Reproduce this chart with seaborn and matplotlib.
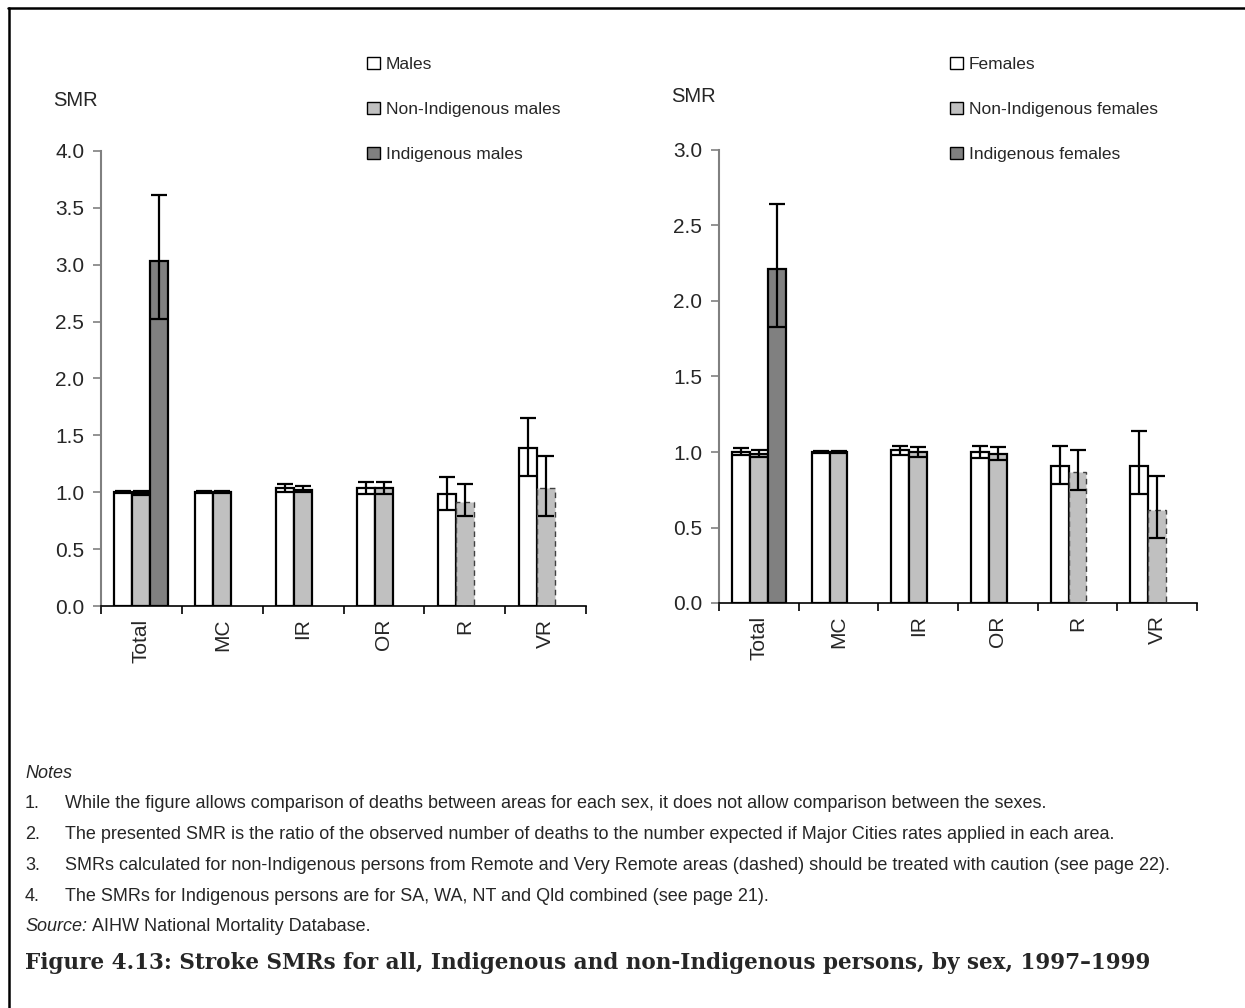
import numpy as np
import pandas as pd
import matplotlib
matplotlib.use("Agg")
import matplotlib.pyplot as plt
import seaborn as sns
from matplotlib.patches import Patch
from matplotlib.lines import Line2D

# ---------------- data ----------------
categories = ["Total", "MC", "IR", "OR", "R", "VR"]

male_series = ["Males", "Non-Indigenous males", "Indigenous males"]
male_all = [1.00, 1.00, 1.035, 1.04, 0.985, 1.39]
male_all_lo = [0.99, 0.99, 1.005, 0.985, 0.845, 1.146]
male_all_hi = [1.01, 1.01, 1.073, 1.09, 1.13, 1.65]
male_non = [0.99, 1.00, 1.02, 1.04, 0.91, 1.035]
male_non_lo = [0.98, 0.99, 1.00, 0.985, 0.79, 0.79]
male_non_hi = [1.01, 1.01, 1.058, 1.09, 1.073, 1.32]
male_ind = [3.03, None, None, None, None, None]
male_ind_lo = [2.52, None, None, None, None, None]
male_ind_hi = [3.61, None, None, None, None, None]

female_series = ["Females", "Non-Indigenous females", "Indigenous females"]
fem_all = [1.00, 1.00, 1.01, 1.00, 0.907, 0.907]
fem_all_lo = [0.98, 0.995, 0.98, 0.96, 0.79, 0.72]
fem_all_hi = [1.026, 1.005, 1.04, 1.04, 1.04, 1.14]
fem_non = [0.99, 1.00, 1.00, 0.985, 0.865, 0.614]
fem_non_lo = [0.97, 0.995, 0.97, 0.946, 0.746, 0.43]
fem_non_hi = [1.01, 1.005, 1.03, 1.03, 1.01, 0.84]
fem_ind = [2.21, None, None, None, None, None]
fem_ind_lo = [1.826, None, None, None, None, None]
fem_ind_hi = [2.64, None, None, None, None, None]

dashed_categories = ["R", "VR"]  # non-Indigenous, treat with caution

notes = [
    "While the figure allows comparison of deaths between areas for each sex, it does not allow comparison between the sexes.",
    "The presented SMR is the ratio of the observed number of deaths to the number expected if Major Cities rates applied in each area.",
    "SMRs calculated for non-Indigenous persons from Remote and Very Remote areas (dashed) should be treated with caution (see page 22).",
    "The SMRs for Indigenous persons are for SA, WA, NT and Qld combined (see page 21).",
]
title = "Figure 4.13: Stroke SMRs for all, Indigenous and non-Indigenous persons, by sex, 1997\u20131999"

colors = ["#FFFFFF", "#C0C0C0", "#808080"]

# ---------------- style ----------------
sns.set_style("white")
plt.rcParams["font.family"] = ["Liberation Sans", "DejaVu Sans"]

W, H = 1245, 1008
fig = plt.figure(figsize=(W / 100, H / 100), dpi=100)


def px_axes(x0, x1, ytop, ybot):
    return fig.add_axes([x0 / W, 1 - ybot / H, (x1 - x0) / W, (ybot - ytop) / H])


def draw_panel(ax, series, vals, los, his, ymax, legend_x, smr_xy):
    rows = []
    for s, v in zip(series, vals):
        for c, val in zip(categories, v):
            if val is not None:
                rows.append({"cat": c, "series": s, "SMR": val})
    df = pd.DataFrame(rows)
    sns.barplot(data=df, x="cat", y="SMR", hue="series", order=categories,
                hue_order=series, palette=colors, width=0.67, errorbar=None,
                edgecolor="black", linewidth=1.6, saturation=1, ax=ax,
                legend=False)
    conts = list(ax.containers)
    for i, cont in enumerate(conts):
        lo_arr, hi_arr = los[i], his[i]
        for bar in cont:
            xc = bar.get_x() + bar.get_width() / 2
            k = int(round(xc))
            h = bar.get_height()
            if not np.isfinite(h):
                continue
            if i == 1 and categories[k] in dashed_categories:
                bar.set_linestyle((0, (4, 3)))
                bar.set_edgecolor("#404040")
                bar.set_linewidth(1.0)
            lo, hi = lo_arr[k], hi_arr[k]
            if lo is not None:
                ax.errorbar([xc], [h], yerr=[[h - lo], [hi - h]], fmt="none",
                            ecolor="black", elinewidth=1.6, capsize=6,
                            capthick=1.6, zorder=5)
    ax.set_xlim(-0.5, len(categories) - 0.5)
    ax.set_ylim(0, ymax)
    ticks = np.arange(0, ymax + 0.01, 0.5)
    ax.set_yticks(ticks)
    ax.set_yticklabels([f"{t:.1f}" for t in ticks], fontsize=15)
    ax.set_xticks(range(len(categories)))
    ax.set_xticklabels(categories, rotation=90, fontsize=15)
    ax.set_xticks(np.arange(-0.5, len(categories), 1), minor=True)
    ax.tick_params(axis="x", which="major", length=0, pad=9)
    ax.tick_params(axis="x", which="minor", length=6, width=1.2,
                   color="black", direction="out", bottom=True)
    ax.tick_params(axis="y", length=6, width=1.2, color="#808080",
                   direction="out", pad=6, left=True)
    ax.set_xlabel("")
    ax.set_ylabel("")
    sns.despine(ax=ax)
    ax.spines["left"].set_color("#808080")
    ax.spines["left"].set_linewidth(1.5)
    ax.spines["bottom"].set_color("black")
    ax.spines["bottom"].set_linewidth(1.2)
    handles = [Patch(facecolor=c, edgecolor="black", linewidth=1.0, label=s)
               for c, s in zip(colors, series)]
    fig.legend(handles=handles, loc="upper left",
               bbox_to_anchor=(legend_x / W, 1 - 57 / H), frameon=False,
               fontsize=12.5, handlelength=0.72, handleheight=0.72,
               handletextpad=0.35, labelspacing=1.7, borderpad=0,
               borderaxespad=0)
    fig.text(smr_xy[0] / W, 1 - smr_xy[1] / H, "SMR", fontsize=14.5,
             ha="center", va="center")


axL = px_axes(101, 586, 151, 606)
draw_panel(axL, male_series, [male_all, male_non, male_ind],
           [male_all_lo, male_non_lo, male_ind_lo],
           [male_all_hi, male_non_hi, male_ind_hi], 4.0, 367, (75, 100))

axR = px_axes(719, 1197, 150, 603)
draw_panel(axR, female_series, [fem_all, fem_non, fem_ind],
           [fem_all_lo, fem_non_lo, fem_ind_lo],
           [fem_all_hi, fem_non_hi, fem_ind_hi], 3.0, 950, (693, 96))

# ---------------- notes ----------------
fs = 13
off = 5  # baseline offset below the visual centre line (px)
fig.text(25 / W, 1 - (773 + off) / H, "Notes", fontsize=fs, style="italic",
         va="baseline")
ys = [803, 834, 865, 896]
for n, (y, t) in enumerate(zip(ys, notes), start=1):
    fig.text(25 / W, 1 - (y + off) / H, f"{n}.", fontsize=fs, va="baseline")
    fig.text(65 / W, 1 - (y + off) / H, t, fontsize=fs, va="baseline")
src = fig.text(25 / W, 1 - (926 + off) / H, "Source:", fontsize=fs,
               style="italic", va="baseline")
fig.text(0, 0, "AIHW National Mortality Database.", fontsize=fs,
         va="baseline", ha="left",
         transform=matplotlib.transforms.offset_copy(
             fig.transFigure, fig=fig, x=0, y=0, units="dots"))
# reposition the source text right after "Source:" using the renderer
fig.canvas.draw()
bb = src.get_window_extent()
fig.texts[-1].set_position(((bb.x1 + 5) / W, 1 - (926 + off) / H))
fig.texts[-1].set_transform(fig.transFigure)

fig.text(25 / W, 1 - 963 / H, title, fontsize=15.5, fontweight="bold",
         family=["DejaVu Serif"], va="center")

fig.add_artist(Line2D([8 / W, 1], [1 - 8 / H, 1 - 8 / H], color="black",
                      linewidth=1.8, transform=fig.transFigure))
fig.add_artist(Line2D([9 / W, 9 / W], [0, 1 - 8 / H], color="black",
                      linewidth=1.8, transform=fig.transFigure))

fig.savefig("out.png", dpi=100, facecolor="white")
